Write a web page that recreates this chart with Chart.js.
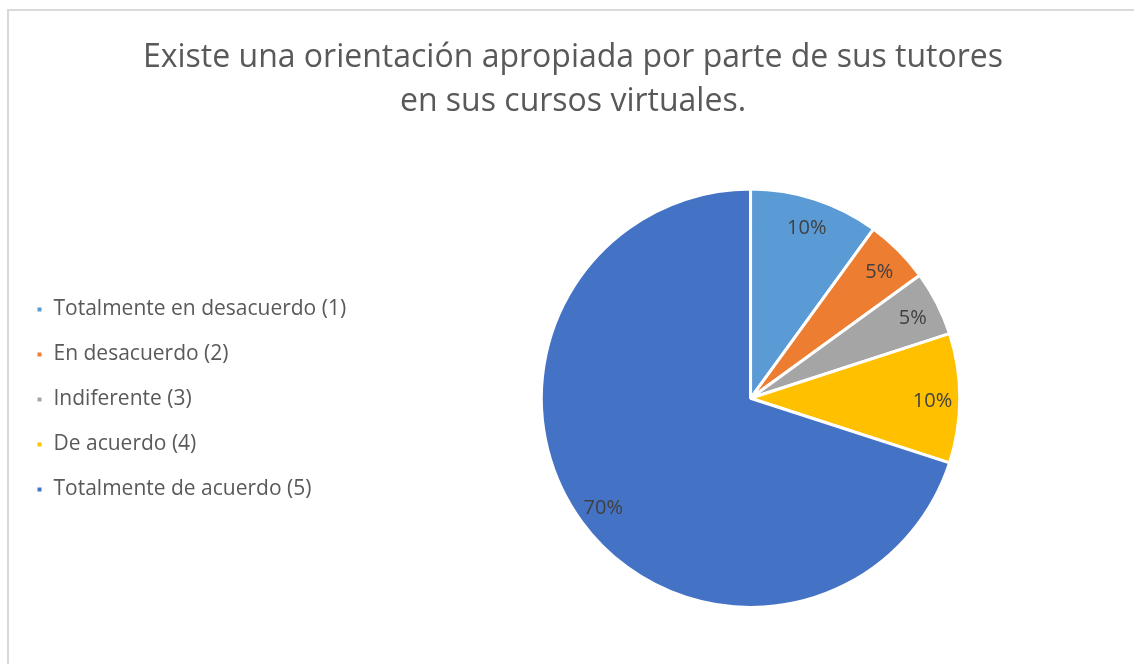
<!DOCTYPE html>
<html>
<head>
<meta charset="utf-8">
<script src="https://cdn.jsdelivr.net/npm/chart.js@4.4.0/dist/chart.umd.min.js"></script>
<style>
  html, body { margin: 0; padding: 0; background: #fff; }
  #marco { position: absolute; left: 7px; top: 9px; width: 1140px; height: 670px;
           border-left: 2px solid #d9d9d9; border-top: 2px solid #d9d9d9; }
  #wrap { position: absolute; left: 0; top: 0; width: 1134px; height: 664px; }
</style>
</head>
<body>
<div id="marco"></div>
<div id="wrap"><canvas id="grafico"></canvas></div>
<script>
const titulo = ['Existe una orientación apropiada por parte de sus tutores', 'en sus cursos virtuales.'];
const categorias = ['Totalmente en desacuerdo (1)', 'En desacuerdo (2)', 'Indiferente (3)', 'De acuerdo (4)', 'Totalmente de acuerdo (5)'];
const valores = [10, 5, 5, 10, 70];
const colores = ['#5B9BD5', '#ED7D31', '#A5A5A5', '#FFC000', '#4472C4'];

const fuente = "'Open Sans', sans-serif";

// Etiquetas de porcentaje dentro de cada sector
const etiquetas = {
  id: 'etiquetas',
  afterDatasetsDraw(chart) {
    const ctx = chart.ctx;
    const meta = chart.getDatasetMeta(0);
    const total = valores.reduce((a, b) => a + b, 0);
    ctx.save();
    ctx.font = '20px ' + fuente;
    ctx.fillStyle = '#404040';
    ctx.textAlign = 'center';
    ctx.textBaseline = 'middle';
    meta.data.forEach((arc, i) => {
      const ang = (arc.startAngle + arc.endAngle) / 2;
      const r = arc.outerRadius * 0.87;
      const x = arc.x + Math.cos(ang) * r;
      const y = arc.y + Math.sin(ang) * r + 3;
      ctx.fillText(Math.round(valores[i] / total * 100) + '%', x, y);
    });
    ctx.restore();
  }
};

// Deja un poco mas de espacio a la derecha de la leyenda (para centrar el pastel)
const anchoLeyenda = {
  id: 'anchoLeyenda',
  beforeLayout(chart) {
    const lg = chart.legend;
    if (lg && !lg._ajustada) {
      const fitOriginal = lg.fit;
      lg.fit = function () {
        fitOriginal.call(this);
        this.width += 11;
      };
      lg._ajustada = true;
    }
  }
};

window.onload = function () {
  const ctx = document.getElementById('grafico').getContext('2d');
  new Chart(ctx, {
    type: 'pie',
    data: {
      labels: categorias,
      datasets: [{
        data: valores,
        backgroundColor: colores,
        borderColor: '#ffffff',
        borderWidth: 3,
        hoverOffset: 0
      }]
    },
    options: {
      responsive: true,
      maintainAspectRatio: false,
      animation: false,
      layout: { padding: { left: 12, right: 0, top: 0, bottom: 55 } },
      plugins: {
        title: {
          display: true,
          text: titulo,
          color: '#595959',
          font: { family: fuente, size: 32, weight: 'normal', lineHeight: 1.4 },
          padding: { top: 35, bottom: 63 }
        },
        legend: {
          position: 'left',
          align: 'start',
          title: { display: true, text: ' ', font: { size: 10 }, padding: { top: 0, bottom: 263 } },
          labels: {
            color: '#595959',
            font: { family: fuente, size: 21 },
            boxWidth: 7,
            boxHeight: 7,
            padding: 24
          }
        },
        tooltip: { enabled: false }
      }
    },
    plugins: [etiquetas, anchoLeyenda]
  });
};
</script>
</body>
</html>
